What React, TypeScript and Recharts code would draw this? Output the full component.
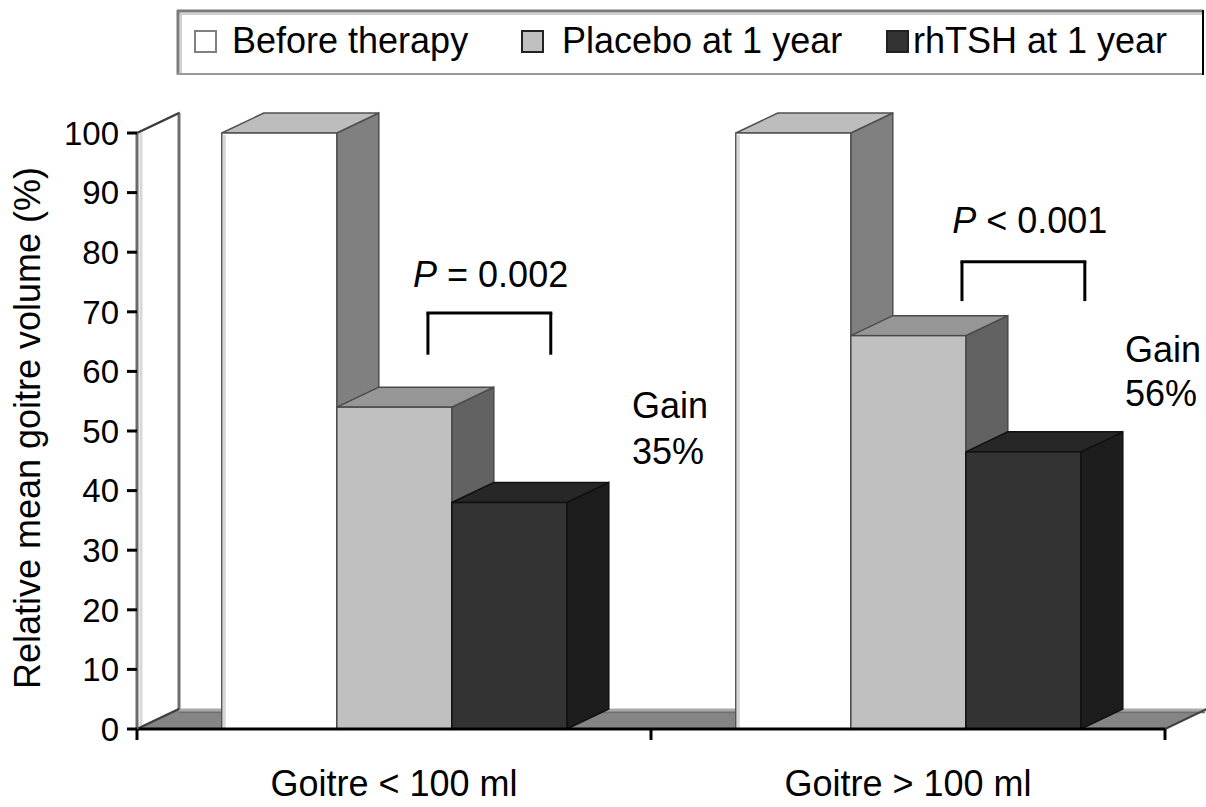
import React from 'react';
import { BarChart, Bar, XAxis, YAxis, ComposedChart, ReferenceArea, ReferenceLine, ReferenceDot } from 'recharts';

// ---------- data ----------
const categories = ['Goitre < 100 ml', 'Goitre > 100 ml'];
const beforeTherapy = [100, 100];
const placeboAt1Year = [54, 66];
const rhTSHAt1Year = [38, 46.5];
const yTicks = [0, 10, 20, 30, 40, 50, 60, 70, 80, 90, 100];
const seriesNames = ['Before therapy', 'Placebo at 1 year', 'rhTSH at 1 year'];
const categoryEdges = [0, 1, 2];
const pRelations = ['= 0.002', '< 0.001'];
const gainValues = ['35%', '56%'];

// ---------- annotation placement (x on the 0..2 category-edge axis, y in %) ----------
const pTextAt = [{ x: 0.688, y: 74.2 }, { x: 1.737, y: 83.2 }];
const bracketAt = [
  { x1: 0.566, x2: 0.805, top: 69.8, bottom: 62.8 },
  { x1: 1.605, x2: 1.844, top: 78.4, bottom: 71.8 },
];
const gainAt = [
  { x: 0.963, y1: 52.2, y2: 44.4 },
  { x: 1.922, y1: 61.6, y2: 54.2 },
];

const data = categories.map((name, i) => ({
  name,
  before: beforeTherapy[i],
  placebo: placeboAt1Year[i],
  rhtsh: rhTSHAt1Year[i],
}));
const edgeData = categoryEdges.map((x) => ({ x }));

const FONT = '"Liberation Sans", Arial, Helvetica, sans-serif';
const W = 1206;
const H = 807;
const MARGIN = { top: 133, right: 41, bottom: 0, left: 0 };
const DX = 42;
const DY = -20;

const styles = [
  { key: 'before', front: '#ffffff', top: '#bdbdbd', side: '#808080', edge: '#505050', inner: '#d6d6d6' },
  { key: 'placebo', front: '#c0c0c0', top: '#969696', side: '#626262', edge: '#4a4a4a', inner: null },
  { key: 'rhtsh', front: '#333333', top: '#272727', side: '#1d1d1d', edge: '#111111', inner: null },
];

function make3D(c: any) {
  return (props: any) => {
    const { x, y, width: w, height: h } = props;
    if (x == null || y == null || !w || h == null) return <g />;
    return (
      <g>
        <polygon
          points={`${x + w},${y} ${x + w + DX},${y + DY} ${x + w + DX},${y + h + DY} ${x + w},${y + h}`}
          fill={c.side}
          stroke={c.edge}
          strokeWidth={1.5}
        />
        <polygon
          points={`${x},${y} ${x + DX},${y + DY} ${x + w + DX},${y + DY} ${x + w},${y}`}
          fill={c.top}
          stroke={c.edge}
          strokeWidth={1.5}
        />
        <rect x={x} y={y} width={w} height={h} fill={c.front} stroke={c.edge} strokeWidth={1.5} />
        {c.inner ? <line x1={x + 2.5} y1={y + 2} x2={x + 2.5} y2={y + h} stroke={c.inner} strokeWidth={3} /> : null}
      </g>
    );
  };
}

const Room = (props: any) => {
  const { x, y, width, height } = props;
  if (x == null) return <g />;
  const b = y + height;
  return (
    <g>
      <polygon
        points={`${x},${b} ${x + DX},${b + DY} ${x + width + DX},${b + DY} ${x + width},${b}`}
        fill="#858585"
      />
      <line x1={x + DX} y1={b + DY + 1} x2={x + width + DX} y2={b + DY + 1} stroke="#a9a9a9" strokeWidth={3} />
      <line x1={x + DX} y1={b + DY + 3.5} x2={x + width + DX - 2} y2={b + DY + 3.5} stroke="#707070" strokeWidth={1.5} />
      <line x1={x + width} y1={b} x2={x + width + DX} y2={b + DY} stroke="#404040" strokeWidth={2} />
      <polygon
        points={`${x},${y} ${x + DX},${y + DY} ${x + DX},${b + DY} ${x},${b}`}
        fill="#ffffff"
        stroke="#808080"
        strokeWidth={2}
      />
      <line x1={x + 4} y1={y} x2={x + 4} y2={b - 2} stroke="#d8d8d8" strokeWidth={3} />
      <line x1={x + DX} y1={y + DY} x2={x + DX} y2={b + DY} stroke="#6e6e6e" strokeWidth={3} />
      <line x1={x} y1={y} x2={x + DX} y2={y + DY} stroke="#404040" strokeWidth={2} />
      <line x1={x} y1={b} x2={x + DX} y2={b + DY} stroke="#404040" strokeWidth={2} />
    </g>
  );
};

const YLabel = (props: any) => {
  const vb = props.viewBox || {};
  const cy = (vb.y ?? 133) + (vb.height ?? 596) / 2 - 3;
  const cx = 40;
  return (
    <text
      x={cx}
      y={cy}
      transform={`rotate(-90 ${cx} ${cy})`}
      textAnchor="middle"
      fontFamily={FONT}
      fontSize={36}
      fill="#000"
    >
      Relative mean goitre volume (%)
    </text>
  );
};

const textAt = (content: React.ReactNode, anchor: string) => (props: any) => (
  <text x={props.cx} y={props.cy} textAnchor={anchor} fontFamily={FONT} fontSize={36} fill="#000">
    {content}
  </text>
);

const legendSquares = [195, 522, 887];
const legendTexts = [232, 562, 913];

export default function App() {
  const layer: React.CSSProperties = { position: 'absolute', left: 0, top: 0 };
  return (
    <div style={{ position: 'absolute', left: 0, top: 0, width: W, height: H, background: '#fff', fontFamily: FONT }}>
      {/* back layer: floor, wall, category-edge ticks, annotations */}
      <div style={layer}>
        <ComposedChart width={W} height={H} data={edgeData} margin={{ ...MARGIN, left: 137 }}>
          <XAxis
            dataKey="x"
            type="number"
            domain={[0, 2]}
            ticks={categoryEdges}
            allowDataOverflow
            height={78}
            tickSize={11}
            tickFormatter={() => ''}
            axisLine={false}
            tickLine={{ stroke: '#000', strokeWidth: 3 }}
          />
          <YAxis hide type="number" domain={[0, 100]} allowDataOverflow />
          <ReferenceArea x1={0} x2={2} y1={0} y2={100} shape={Room} ifOverflow="visible" />
          {bracketAt.map((b, i) => (
            <ReferenceLine key={`bl${i}`} segment={[{ x: b.x1, y: b.bottom }, { x: b.x1, y: b.top }]} stroke="#000" strokeWidth={3} ifOverflow="visible" />
          ))}
          {bracketAt.map((b, i) => (
            <ReferenceLine key={`bt${i}`} segment={[{ x: b.x1 - 0.003, y: b.top }, { x: b.x2 + 0.003, y: b.top }]} stroke="#000" strokeWidth={3} ifOverflow="visible" />
          ))}
          {bracketAt.map((b, i) => (
            <ReferenceLine key={`br${i}`} segment={[{ x: b.x2, y: b.top }, { x: b.x2, y: b.bottom }]} stroke="#000" strokeWidth={3} ifOverflow="visible" />
          ))}
          {pTextAt.map((p, i) => (
            <ReferenceDot
              key={`pt${i}`}
              x={p.x}
              y={p.y}
              r={0}
              ifOverflow="visible"
              shape={textAt(<><tspan fontStyle="italic">P</tspan>{' ' + pRelations[i]}</>, 'middle')}
            />
          ))}
          {gainAt.map((g, i) => (
            <ReferenceDot key={`g1${i}`} x={g.x} y={g.y1} r={0} ifOverflow="visible" shape={textAt('Gain', 'start')} />
          ))}
          {gainAt.map((g, i) => (
            <ReferenceDot key={`g2${i}`} x={g.x} y={g.y2} r={0} ifOverflow="visible" shape={textAt(gainValues[i], 'start')} />
          ))}
        </ComposedChart>
      </div>
      {/* front layer: bars and axes */}
      <div style={layer}>
        <BarChart width={W} height={H} data={data} margin={MARGIN} barCategoryGap="16.5%" barGap={0}>
          <XAxis
            dataKey="name"
            height={78}
            tickSize={0}
            tickMargin={41}
            interval={0}
            axisLine={{ stroke: '#000', strokeWidth: 3 }}
            tickLine={false}
            tick={{ fontSize: 36, fill: '#000', fontFamily: FONT }}
          />
          <YAxis
            width={137}
            domain={[0, 100]}
            ticks={yTicks}
            interval={0}
            tickSize={10}
            tickMargin={8}
            axisLine={{ stroke: '#6a6a6a', strokeWidth: 3 }}
            tickLine={{ stroke: '#000', strokeWidth: 3 }}
            tick={{ fontSize: 33, fill: '#000', fontFamily: FONT }}
            label={{ content: YLabel }}
          />
          {styles.map((s, i) => (
            <Bar key={s.key} dataKey={s.key} name={seriesNames[i]} isAnimationActive={false} shape={make3D(s)} />
          ))}
        </BarChart>
      </div>
      {/* legend */}
      <svg width={W} height={90} style={{ ...layer, pointerEvents: 'none' }}>
        <rect x={178} y={11} width={1024} height={62} fill="#fff" stroke="none" />
        <line x1={177} y1={11} x2={1203} y2={11} stroke="#7a7a7a" strokeWidth={3} />
        <line x1={177} y1={14} x2={1203} y2={14} stroke="#d0d0d0" strokeWidth={2} />
        <line x1={178} y1={10} x2={178} y2={75} stroke="#7a7a7a" strokeWidth={3} />
        <line x1={181} y1={14} x2={181} y2={73} stroke="#d0d0d0" strokeWidth={2} />
        <line x1={177} y1={74} x2={1203} y2={74} stroke="#9a9a9a" strokeWidth={2} />
        <line x1={1203} y1={10} x2={1203} y2={75} stroke="#000" strokeWidth={2} />
        {seriesNames.map((n, i) => (
          <g key={n}>
            <rect x={legendSquares[i]} y={31} width={21} height={21} fill={styles[i].front} stroke={i === 0 ? '#808080' : '#222'} strokeWidth={2} />
            <text x={legendTexts[i]} y={53} fontFamily={FONT} fontSize={36} fill="#000">
              {n}
            </text>
          </g>
        ))}
      </svg>
    </div>
  );
}
